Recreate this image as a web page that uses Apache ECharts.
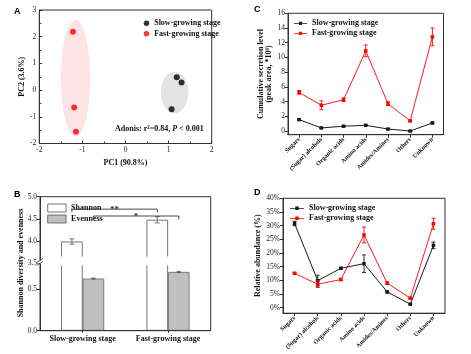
<!DOCTYPE html>
<html><head><meta charset="utf-8">
<script src="https://cdn.jsdelivr.net/npm/echarts@6/dist/echarts.min.js"></script>
<style>html,body{margin:0;padding:0;background:#fff}#c{width:471px;height:354px}</style>
</head><body><div id="c"></div>
<script>
// ---------- Panel A (PCA) ----------
const pcaSlow = [[1.19, 0.48], [1.30, 0.28], [1.07, -0.72]];
const pcaFast = [[-1.22, 2.19], [-1.19, -0.65], [-1.15, -1.56]];
const ellipseSlow = [[1.14, -0.09, 0.32, 0.78]];   // cx, cy, rx, ry
const ellipseFast = [[-1.16, 0.44, 0.34, 2.19]];
// ---------- Panel B (diversity) ----------
const stages = ['Slow-growing stage', 'Fast-growing stage'];
const shannon = [3.99, 4.48];
const shannonErr = [0.06, 0.07];
const evenness = [0.63, 0.71];
const evennessErr = [0.006, 0.006];
// [fromStage, toStage, lineY, endY, slot(0=Shannon,1=Evenness)]
const brackets = [[0, 1, 4.72, 4.65, 0], [0, 1, 4.565, 4.49, 1]];
const bracketLabels = ['**', '*'];
const bUpperTicks = [3.5, 4.0, 4.5, 5.0];
const bLowerTicks = [0.0, 0.5];
// ---------- Panels C & D ----------
const classes = ['Sugars', '(Sugar) alcohols', 'Organic acids', 'Amino acids', 'Amides/Amines', 'Others', 'Unknown'];
const secSlow = [1.55, 0.42, 0.65, 0.78, 0.27, 0.0, 1.1];
const secSlowErr = [0.08, 0.05, 0.05, 0.05, 0.05, 0.03, 0.1];
const secFast = [5.25, 3.5, 4.25, 10.9, 3.72, 1.38, 12.8];
const secFastErr = [0.25, 0.6, 0.25, 0.8, 0.25, 0.1, 1.2];
const secTicks = [0, 2, 4, 6, 8, 10, 12, 14, 16];
const relSlow = [30.8, 9.9, 14.4, 16.1, 5.8, 1.3, 22.8];
const relSlowErr = [0.8, 2.0, 0.4, 3.2, 0.4, 0.2, 1.2];
const relFast = [12.6, 8.6, 10.3, 26.6, 9.0, 3.5, 30.7];
const relFastErr = [0.3, 1.2, 0.4, 2.9, 0.5, 0.3, 2.0];
const relTicks = [0, 5, 10, 15, 20, 25, 30, 35, 40];

const SERIF = '"Liberation Serif", "Times New Roman", serif';
const SANS = '"Liberation Sans", Arial, sans-serif';
const RED = '#ff0000', BLK = '#1a1a1a';
const BARW = 21.5;
const LINE_ICON = 'path://M0,1.6 L14,1.6 L14,2.4 L0,2.4 Z M5.3,0.3 L8.7,0.3 L8.7,3.7 L5.3,3.7 Z M0,0 L0.01,0 L0.01,4 L0,4 Z';

function errData(vals, errs) { return vals.map((v, i) => [i, v - errs[i], v + errs[i]]); }
function errItem(color, offset, cap) {
  return function (params, api) {
    const x = api.value(0);
    const p1 = api.coord([x, api.value(1)]), p2 = api.coord([x, api.value(2)]);
    const cx = p1[0] + offset;
    const st = { stroke: color, lineWidth: 0.9 };
    return { type: 'group', children: [
      { type: 'line', shape: { x1: cx, y1: p1[1], x2: cx, y2: p2[1] }, style: st },
      { type: 'line', shape: { x1: cx - cap, y1: p1[1], x2: cx + cap, y2: p1[1] }, style: st },
      { type: 'line', shape: { x1: cx - cap, y1: p2[1], x2: cx + cap, y2: p2[1] }, style: st }
    ] };
  };
}
function ellItem(fill) {
  return function (params, api) {
    const c = api.coord([api.value(0), api.value(1)]);
    const s = api.size([api.value(2), api.value(3)]);
    return { type: 'ellipse', shape: { cx: c[0], cy: c[1], rx: s[0], ry: s[1] }, style: { fill: fill } };
  };
}
const tickLbl = { fontFamily: SERIF, fontSize: 7.5, color: '#222' };
const axisLine = { show: true, onZero: false, lineStyle: { color: '#333', width: 1 } };
const boldName = { fontFamily: SERIF, fontSize: 8, fontWeight: 'bold', color: '#111' };
const legendText = { fontFamily: SERIF, fontSize: 8, fontWeight: 'bold', color: '#111', lineHeight: 9 };

const chart = echarts.init(document.getElementById('c'), null, { renderer: 'canvas' });
const option = {
  animation: false,
  backgroundColor: '#fff',
  grid: [
    { left: 39.3, top: 10, width: 172.4, height: 133.5, show: true, borderColor: '#333', borderWidth: 1, backgroundColor: 'transparent' },
    { left: 40, top: 196.7, width: 170.7, height: 66.6 },
    { left: 40, top: 264.5, width: 170.7, height: 66.2 },
    { left: 288, top: 13.3, width: 155.5, height: 121.4, show: true, borderColor: '#333', borderWidth: 1, backgroundColor: 'transparent' },
    { left: 283, top: 198.3, width: 162, height: 114.9, show: true, borderColor: '#333', borderWidth: 1, backgroundColor: 'transparent' }
  ],
  xAxis: [
    { gridIndex: 0, type: 'value', min: -2, max: 2, interval: 1, axisLine: axisLine,
      axisTick: { inside: true, length: 3 }, minorTick: { show: true, splitNumber: 2, length: 2 },
      axisLabel: Object.assign({ margin: 3 }, tickLbl), splitLine: { show: false },
      name: 'PC1 (90.8%)', nameLocation: 'middle', nameGap: 15, nameTextStyle: boldName },
    { gridIndex: 1, type: 'category', data: stages, show: false },
    { gridIndex: 2, type: 'category', data: stages, axisLine: axisLine,
      axisTick: { show: true, alignWithLabel: true, length: 2 },
      axisLabel: { interval: 0, fontFamily: SERIF, fontSize: 8, fontWeight: 'bold', color: '#111', margin: 4 } },
    { gridIndex: 3, type: 'category', data: classes, axisLine: axisLine,
      axisTick: { show: true, alignWithLabel: true, length: 3 },
      axisLabel: { interval: 0, rotate: 45, fontFamily: SERIF, fontSize: 6.3, fontWeight: 'bold', color: '#111', margin: 4 } },
    { gridIndex: 4, type: 'category', data: classes, axisLine: axisLine,
      axisTick: { show: true, alignWithLabel: true, length: 3 },
      axisLabel: { interval: 0, rotate: 45, fontFamily: SERIF, fontSize: 6.3, fontWeight: 'bold', color: '#111', margin: 4 } }
  ],
  yAxis: [
    { gridIndex: 0, type: 'value', min: -2, max: 3, interval: 1, axisLine: axisLine,
      axisTick: { inside: true, length: 3 }, minorTick: { show: true, splitNumber: 2, length: 2 },
      axisLabel: Object.assign({ margin: 3 }, tickLbl), splitLine: { show: false },
      name: 'PC2 (3.6%)', nameLocation: 'middle', nameGap: 10, nameRotate: 90, nameTextStyle: boldName },
    { gridIndex: 1, type: 'value', min: 3.5, max: 5.0, interval: 0.5, axisLine: axisLine,
      axisTick: { show: true, length: 3 }, splitLine: { show: false },
      axisLabel: Object.assign({ margin: 3, formatter: v => v.toFixed(1),
        customValues: bUpperTicks }, tickLbl) },
    { gridIndex: 2, type: 'value', min: 0, max: 0.8, interval: 0.5, axisLine: axisLine,
      axisTick: { show: true, length: 3, customValues: bLowerTicks }, splitLine: { show: false },
      axisLabel: Object.assign({ margin: 3, formatter: v => v.toFixed(1), customValues: bLowerTicks }, tickLbl) },
    { gridIndex: 3, type: 'value', min: -0.5, max: 16, axisLine: axisLine,
      axisTick: { show: true, length: 3, customValues: secTicks }, splitLine: { show: false },
      axisLabel: Object.assign({ margin: 3, customValues: secTicks }, tickLbl),
      name: 'Cumulative secretion level\n(peak area, *10\u2076)', nameLocation: 'middle', nameGap: 10.5, nameRotate: 90,
      nameTextStyle: Object.assign({ lineHeight: 8.5 }, boldName) },
    { gridIndex: 4, type: 'value', min: -2, max: 40, axisLine: axisLine,
      axisTick: { show: true, length: 3, customValues: relTicks }, splitLine: { show: false },
      axisLabel: Object.assign({ margin: 3, customValues: relTicks, formatter: v => v + '%' }, tickLbl),
      name: 'Relative abundance (%)', nameLocation: 'middle', nameGap: 19, nameRotate: 90, nameTextStyle: boldName }
  ],
  legend: [
    { orient: 'vertical', left: 138.7, top: 13.8, itemWidth: 5.5, itemHeight: 5.5, itemGap: 1.5, icon: 'circle',
      data: ['A|Slow-growing stage', 'A|Fast-growing stage'], formatter: n => n.split('|')[1], textStyle: legendText },
    { orient: 'vertical', left: 42.3, top: 198.5, itemWidth: 18.4, itemHeight: 8, itemGap: 2, icon: 'rect',
      data: ['Shannon', 'Evenness'], textStyle: legendText, itemStyle: { borderColor: '#555', borderWidth: 0.8 } },
    { orient: 'vertical', left: 289, top: 13.8, itemWidth: 13, itemHeight: 4, itemGap: 1, icon: LINE_ICON,
      data: ['C|Slow-growing stage', 'C|Fast-growing stage'], formatter: n => n.split('|')[1], textStyle: legendText },
    { orient: 'vertical', left: 285, top: 198.8, itemWidth: 14, itemHeight: 4, itemGap: 1, icon: LINE_ICON,
      data: ['D|Slow-growing stage', 'D|Fast-growing stage'], formatter: n => n.split('|')[1], textStyle: legendText }
  ],
  series: [
    // Panel A
    { type: 'custom', name: 'ellFast', xAxisIndex: 0, yAxisIndex: 0, renderItem: ellItem('#fde3e3'), data: ellipseFast, z: 1, silent: true },
    { type: 'custom', name: 'ellSlow', xAxisIndex: 0, yAxisIndex: 0, renderItem: ellItem('#e3e3e3'), data: ellipseSlow, z: 1, silent: true },
    { type: 'scatter', name: 'A|Slow-growing stage', xAxisIndex: 0, yAxisIndex: 0, data: pcaSlow, symbolSize: 6, itemStyle: { color: '#000' }, z: 3 },
    { type: 'scatter', name: 'A|Fast-growing stage', xAxisIndex: 0, yAxisIndex: 0, data: pcaFast, symbolSize: 6, itemStyle: { color: RED }, z: 3 },
    // Panel B upper
    { type: 'bar', name: 'Shannon', xAxisIndex: 1, yAxisIndex: 1, data: shannon, barWidth: BARW, barGap: '0%',
      itemStyle: { color: '#fff', borderColor: '#555', borderWidth: 0.8 } },
    { type: 'bar', name: 'Evenness', xAxisIndex: 1, yAxisIndex: 1, data: evenness.map(() => '-'), barWidth: BARW, barGap: '0%',
      itemStyle: { color: '#c0c0c0', borderColor: '#666', borderWidth: 0.8 } },
    { type: 'custom', name: 'errShannon', xAxisIndex: 1, yAxisIndex: 1, renderItem: errItem('#666', -BARW / 2, 2.5), data: errData(shannon, shannonErr), z: 4 },
    { type: 'custom', name: 'brackets', xAxisIndex: 1, yAxisIndex: 1, clip: false, z: 5, data: brackets,
      renderItem: function (params, api) {
        const off = (api.value(4) === 0 ? -1 : 1) * BARW / 2;
        const a = api.coord([api.value(0), api.value(2)]);
        const c = api.coord([api.value(1), api.value(2)]);
        const e = api.coord([api.value(0), api.value(3)]);
        const x1 = a[0] + off, x2 = c[0] + off, y = a[1], ye = e[1];
        return { type: 'group', children: [
          { type: 'polyline', shape: { points: [[x1, ye], [x1, y], [x2, y], [x2, ye]] }, style: { stroke: '#333', fill: null, lineWidth: 0.9 } },
          { type: 'text', style: { text: bracketLabels[params.dataIndex], x: (x1 + x2) / 2, y: y + 1, align: 'center', verticalAlign: 'middle',
            font: 'bold 9px ' + SERIF, fill: '#333' } }
        ] };
      } },
    // Panel B lower
    { type: 'bar', name: 'Shannon', xAxisIndex: 2, yAxisIndex: 2, data: shannon, barWidth: BARW, barGap: '0%',
      itemStyle: { color: '#fff', borderColor: '#555', borderWidth: 0.8 } },
    { type: 'bar', name: 'Evenness', xAxisIndex: 2, yAxisIndex: 2, data: evenness, barWidth: BARW, barGap: '0%',
      itemStyle: { color: '#c0c0c0', borderColor: '#666', borderWidth: 0.8 } },
    { type: 'custom', name: 'errEven', xAxisIndex: 2, yAxisIndex: 2, renderItem: errItem('#555', BARW / 2, 2), data: errData(evenness, evennessErr), z: 4 },
    // Panel C
    { type: 'line', name: 'C|Slow-growing stage', xAxisIndex: 3, yAxisIndex: 3, data: secSlow, symbol: 'rect', symbolSize: 3.5,
      itemStyle: { color: BLK }, lineStyle: { color: BLK, width: 1 }, z: 3 },
    { type: 'line', name: 'C|Fast-growing stage', xAxisIndex: 3, yAxisIndex: 3, data: secFast, symbol: 'rect', symbolSize: 3.5,
      itemStyle: { color: RED }, lineStyle: { color: RED, width: 0.9 }, z: 3 },
    { type: 'custom', name: 'errCs', xAxisIndex: 3, yAxisIndex: 3, renderItem: errItem(BLK, 0, 2), data: errData(secSlow, secSlowErr), z: 4 },
    { type: 'custom', name: 'errCf', xAxisIndex: 3, yAxisIndex: 3, renderItem: errItem(RED, 0, 2), data: errData(secFast, secFastErr), z: 4 },
    // Panel D
    { type: 'line', name: 'D|Slow-growing stage', xAxisIndex: 4, yAxisIndex: 4, data: relSlow, symbol: 'rect', symbolSize: 3.5,
      itemStyle: { color: BLK }, lineStyle: { color: BLK, width: 1 }, z: 3 },
    { type: 'line', name: 'D|Fast-growing stage', xAxisIndex: 4, yAxisIndex: 4, data: relFast, symbol: 'rect', symbolSize: 3.5,
      itemStyle: { color: RED }, lineStyle: { color: RED, width: 0.9 }, z: 3 },
    { type: 'custom', name: 'errDs', xAxisIndex: 4, yAxisIndex: 4, renderItem: errItem(BLK, 0, 2), data: errData(relSlow, relSlowErr), z: 4 },
    { type: 'custom', name: 'errDf', xAxisIndex: 4, yAxisIndex: 4, renderItem: errItem(RED, 0, 2), data: errData(relFast, relFastErr), z: 4 }
  ],
  graphic: [
    { type: 'text', left: 14, top: 7, style: { text: 'A', font: 'bold 9px ' + SANS, fill: '#000' } },
    { type: 'text', left: 14, top: 190, style: { text: 'B', font: 'bold 9px ' + SANS, fill: '#000' } },
    { type: 'text', left: 254, top: 5, style: { text: 'C', font: 'bold 9px ' + SANS, fill: '#000' } },
    { type: 'text', left: 254, top: 188, style: { text: 'D', font: 'bold 9px ' + SANS, fill: '#000' } },
    { type: 'text', x: 115, y: 128.5, z: 10, style: { rich: {
        b: { font: 'bold 8px ' + SERIF, fill: '#111' }, i: { font: 'italic bold 8px ' + SERIF, fill: '#111' } },
      text: '{b|Adonis: r\u00b2=0.84, }{i|P}{b| < 0.001}', verticalAlign: 'middle' } },
    { type: 'text', x: 20.5, y: 263, rotation: Math.PI / 2, style: { text: 'Shannon diversity and evenness',
      font: 'bold 8px ' + SERIF, fill: '#111', align: 'center', verticalAlign: 'middle' } },
    // B frame and axis break
    { type: 'rect', shape: { x: 40, y: 196.7, width: 170.7, height: 134 }, style: { fill: null, stroke: '#333', lineWidth: 1 }, z: 20 },
    { type: 'rect', shape: { x: 41, y: 256.5, width: 168.5, height: 9 }, style: { fill: '#fff' }, z: 21 },
    { type: 'rect', shape: { x: 37, y: 260.5, width: 6, height: 3 }, style: { fill: '#fff' }, z: 21 },
    { type: 'line', shape: { x1: 36.5, y1: 262.5, x2: 43, y2: 258.5 }, style: { stroke: '#333', lineWidth: 0.8 }, z: 22 },
    { type: 'line', shape: { x1: 36.5, y1: 265.5, x2: 43, y2: 261.5 }, style: { stroke: '#333', lineWidth: 0.8 }, z: 22 }
  ]
};
chart.setOption(option);
</script>
</body></html>
